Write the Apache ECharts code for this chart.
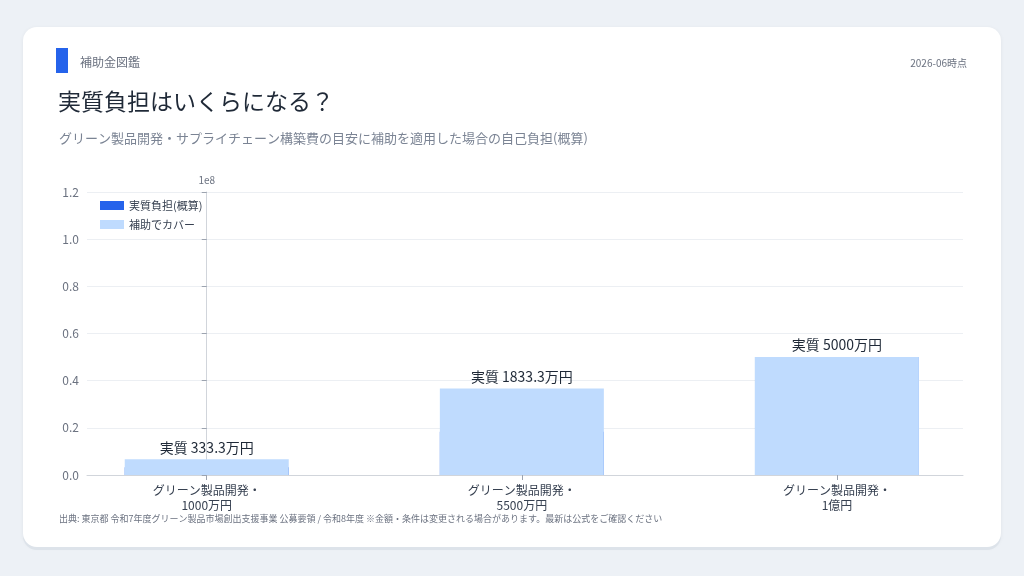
<!DOCTYPE html>
<html><head><meta charset="utf-8">
<script src="https://cdn.jsdelivr.net/npm/echarts@6/dist/echarts.min.js"></script>
<style>
html,body{margin:0;padding:0;background:#edf1f6;width:1024px;height:576px;overflow:hidden;font-family:"Noto Sans CJK JP","Noto Sans",sans-serif;}
#card{position:absolute;left:23px;top:27px;width:978px;height:520px;background:#fff;border-radius:14px;box-shadow:0 3px 0 #dde3ea,0 1px 4px rgba(0,0,0,0.06);}
#chart{position:absolute;left:0;top:0;width:1024px;height:576px;}
</style></head><body>
<div id="card"></div>
<div id="chart"></div>
<script>
const categories = ["グリーン製品開発・\n1000万円","グリーン製品開発・\n5500万円","グリーン製品開発・\n1億円"];
const burden = [3333333, 18333333, 50000000];
const covered = [6666667, 36666667, 50000000];
const topLabels = ["実質 333.3万円","実質 1833.3万円","実質 5000万円"];
const chart = echarts.init(document.getElementById('chart'));
const F = '"Noto Sans CJK JP","Noto Sans",sans-serif';
chart.setOption({
  textStyle:{fontFamily:F},
  graphic:[
    {type:'rect',shape:{x:56,y:48,width:12,height:25},style:{fill:'#2563eb'}},
    {type:'text',left:80,top:56,style:{text:'補助金図鑑',font:'12px '+F,fill:'#6b7280'}},
    {type:'text',right:57,top:58,style:{text:'2026-06時点',font:'10px '+F,fill:'#6b7280'}},
    {type:'text',left:58,top:90,style:{text:'実質負担はいくらになる？',font:'23px '+F,fill:'#1f2937'}},
    {type:'text',left:59,top:132,style:{text:'グリーン製品開発・サプライチェーン構築費の目安に補助を適用した場合の自己負担(概算)',font:'13px '+F,fill:'#7b8494'}},
    {type:'text',left:59,top:514,style:{text:'出典: 東京都 令和7年度グリーン製品市場創出支援事業 公募要領 / 令和8年度 ※金額・条件は変更される場合があります。最新は公式をご確認ください',font:'9px '+F,fill:'#6b7280'}}
  ],
  legend:{left:95,top:195,orient:'vertical',itemWidth:24,itemHeight:9,itemGap:8,icon:'rect',textStyle:{fontSize:11,color:'#374151'},data:['実質負担(概算)','補助でカバー']},
  grid:{left:87,right:61,top:192,bottom:101},
  xAxis:{type:'value',min:-0.38,max:2.4,splitLine:{show:false},
    axisLine:{show:true,lineStyle:{color:'#d1d5db'}},
    axisTick:{show:true,customValues:[0,1,2],lineStyle:{color:'#9ca3af'}},
    axisLabel:{customValues:[0,1,2],formatter:v=>categories[Math.round(v)]||'',color:'#374151',fontSize:12,lineHeight:15}},
  yAxis:{type:'value',min:0,max:120000000,interval:20000000,name:'1e8',nameGap:7,nameTextStyle:{color:'#6b7280',fontSize:10,align:'center'},
    axisLine:{show:true,lineStyle:{color:'#d1d5db'}},axisTick:{show:true,lineStyle:{color:'#9ca3af'}},
    axisLabel:{color:'#6b7280',fontSize:12,formatter:v=>(v/1e8).toFixed(1)},splitLine:{lineStyle:{color:'#eceff3'}}},
  series:[
    {name:'実質負担(概算)',type:'bar',stack:'a',barWidth:164,data:burden.map((v,i)=>[i,v]),itemStyle:{color:'#2563eb'}},
    {name:'補助でカバー',type:'bar',stack:'a',barWidth:164,data:covered.map((v,i)=>[i,v]),itemStyle:{color:'#bfdbfe'},
     label:{show:true,position:'top',fontSize:14,color:'#1f2937',formatter:p=>topLabels[p.dataIndex]}}
  ]
});
</script></body></html>
